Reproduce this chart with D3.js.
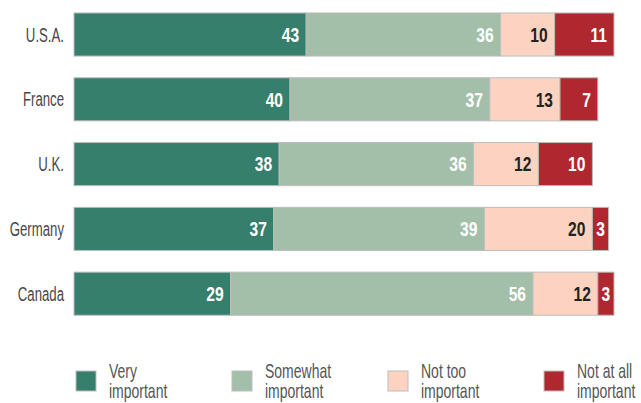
<!DOCTYPE html>
<html>
<head>
<meta charset="utf-8">
<script src="https://cdn.jsdelivr.net/npm/d3@7"></script>
<style>
  body { margin: 0; background: #fff; }
  svg text { font-family: "Liberation Sans", Arial, sans-serif; }
</style>
</head>
<body>
<div id="chart"></div>
<script>
var countries = ["U.S.A.", "France", "U.K.", "Germany", "Canada"];
var categories = ["Very important", "Somewhat important", "Not too important", "Not at all important"];
var veryImportant = [43, 40, 38, 37, 29];
var somewhatImportant = [36, 37, 36, 39, 56];
var notTooImportant = [10, 13, 12, 20, 12];
var notAtAllImportant = [11, 7, 10, 3, 3];

var colours = ["#367f6c", "#a3bfa9", "#fcd3c1", "#b0282f"];
var labelColours = ["#fff", "#fff", "#222", "#fff"];

var width = 641, height = 403;

var svg = d3.select("#chart").append("svg")
  .attr("width", width)
  .attr("height", height);

// build rows from the arrays
var series = [veryImportant, somewhatImportant, notTooImportant, notAtAllImportant];
var rows = countries.map(function(c, i) {
  var row = { country: c };
  categories.forEach(function(k, j) { row[k] = series[j][i]; });
  return row;
});

var stacked = d3.stack().keys(categories)(rows);

var x = d3.scaleLinear().domain([0, 100]).range([74, 614]);
var y = d3.scaleBand().domain(countries).range([2.6, 325.6]).paddingInner(0.335).paddingOuter(0.16);

// the reference uses a condensed face, squeeze text horizontally
var narrow = 0.66;

// country labels
svg.append("g").selectAll("g")
  .data(countries)
  .enter().append("g")
  .attr("transform", function(d) { return "translate(64," + (y(d) + y.bandwidth() / 2) + ")"; })
  .append("text")
  .attr("transform", "scale(" + narrow + ",1)")
  .attr("dy", "0.35em")
  .attr("text-anchor", "end")
  .attr("font-size", 20)
  .attr("fill", "#474747")
  .text(function(d) { return d; });

// bar segments
var layer = svg.append("g").selectAll("g")
  .data(stacked)
  .enter().append("g")
  .attr("fill", function(d, j) { return colours[j]; });

layer.selectAll("rect")
  .data(function(d) { return d; })
  .enter().append("rect")
  .attr("x", function(d) { return x(d[0]); })
  .attr("y", function(d) { return y(d.data.country); })
  .attr("width", function(d) { return x(d[1]) - x(d[0]); })
  .attr("height", y.bandwidth())
  .attr("stroke", "#bdbdbd")
  .attr("stroke-width", 1);

// value labels: right aligned, tiny segments get centred
layer.selectAll("g.val")
  .data(function(d, j) { return d.map(function(p) { return { p: p, j: j }; }); })
  .enter().append("g")
  .attr("class", "val")
  .attr("transform", function(d) {
    var small = d.p[1] - d.p[0] < 5;
    var px = small ? (x(d.p[0]) + x(d.p[1])) / 2 : x(d.p[1]) - 7;
    return "translate(" + px + "," + (y(d.p.data.country) + y.bandwidth() / 2) + ")";
  })
  .append("text")
  .attr("transform", "scale(0.78,1)")
  .attr("dy", "0.36em")
  .attr("text-anchor", function(d) { return d.p[1] - d.p[0] < 5 ? "middle" : "end"; })
  .attr("font-size", 20)
  .attr("font-weight", "bold")
  .attr("fill", function(d) { return labelColours[d.j]; })
  .text(function(d) { return d.p[1] - d.p[0]; });

// legend
var legendX = d3.scalePoint().domain(categories).range([76, 544]);
var legend = svg.append("g").selectAll("g")
  .data(categories)
  .enter().append("g")
  .attr("transform", function(d) { return "translate(" + legendX(d) + ",371)"; });

legend.append("rect")
  .attr("width", 20)
  .attr("height", 20)
  .attr("fill", function(d, i) { return colours[i]; })
  .attr("stroke", "#bdbdbd");

legend.append("g")
  .attr("transform", "translate(33,0)")
  .append("text")
  .attr("transform", "scale(0.7,1)")
  .attr("font-size", 20)
  .attr("fill", "#555")
  .selectAll("tspan")
  .data(function(d) {
    var parts = d.split(" ");
    var last = parts.pop();
    return [parts.join(" "), last];
  })
  .enter().append("tspan")
  .attr("x", 0)
  .attr("y", function(d, i) { return i * 21 + 6.5; })
  .text(function(d) { return d; });
</script>
</body>
</html>
